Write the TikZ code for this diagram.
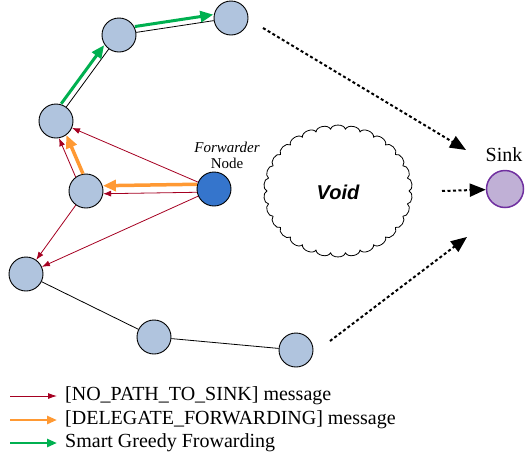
\documentclass[tikz,border=0pt]{standalone}
\usepackage{fontspec}
\setmainfont{Liberation Serif}
\newfontfamily\voidfont{Liberation Sans}
\usetikzlibrary{calc,arrows.meta}
\definecolor{nodefill}{RGB}{176,196,222}
\definecolor{fwdfill}{RGB}{53,117,204}
\definecolor{sinkfill}{RGB}{192,176,214}
\definecolor{sinkdraw}{RGB}{112,48,160}
\definecolor{myred}{RGB}{165,0,33}
\definecolor{myorange}{RGB}{255,153,51}
\definecolor{mygreen}{RGB}{0,176,80}
\tikzset{
  sensor/.style={circle,draw=black,line width=0.9pt,fill=nodefill,minimum size=34pt,inner sep=0pt},
  fwd/.style={sensor,fill=fwdfill},
  sinknode/.style={circle,draw=sinkdraw,line width=1.5pt,fill=sinkfill,minimum size=37pt,inner sep=0pt},
  link/.style={draw=black,line width=0.8pt},
  cloudline/.style={draw=black,line width=0.8pt,line join=round},
  redarrow/.style={draw=myred,line width=0.8pt,-{Latex[length=8pt,width=6pt]}},
  orangearrow/.style={draw=myorange,line width=3.5pt,-{Triangle[length=13pt,width=11pt]}},
  greenarrow/.style={draw=mygreen,line width=3pt,-{Triangle[length=13pt,width=11pt]}},
  dotarrow/.style={draw=black,line width=2pt,dash pattern=on 3pt off 2.5pt,-{Triangle[length=16pt,width=13pt]}},
  legred/.style={draw=myred,line width=0.8pt,-{Latex[length=9pt,width=6pt]}},
  legorange/.style={draw=myorange,line width=2.5pt,-{Triangle[length=10pt,width=8pt]}},
  leggreen/.style={draw=mygreen,line width=2.5pt,-{Triangle[length=10pt,width=8pt]}},
  legtext/.style={anchor=west,font=\fontsize{20}{22}\selectfont,inner sep=0pt},
}
\begin{document}
\begin{tikzpicture}[x=1pt,y=-1pt]
\useasboundingbox (0,0) rectangle (525,456);
% void cloud
\draw[cloudline] (338+71,191) \foreach \i in {1,...,30} { to[bend left=80] ({338+71*cos(12*\i)},{191+62*sin(12*\i)}) };
\node[font=\voidfont\bfseries\itshape\fontsize{20}{22}\selectfont] (voidlbl) at (338,192) {Void};
% nodes
\node[sensor] (A1) at (119,35) {};
\node[sensor] (A2) at (231,18) {};
\node[sensor] (A3) at (56,121) {};
\node[sensor] (A4) at (86,191) {};
\node[fwd] (F) at (214,189) {};
\node[sensor] (A5) at (26,274) {};
\node[sensor] (A6) at (154,337) {};
\node[sensor] (A7) at (296,350) {};
\node[sinknode] (sink) at (505,189) {};
\node[font=\fontsize{20}{22}\selectfont] (sinklbl) at (504,155) {Sink};
\node[align=center,font=\fontsize{15}{16}\selectfont,inner sep=0pt] (fwdlbl) at (227,155) {\textit{Forwarder}\\Node};
% black links
\draw[link] (A1) -- (A2);
\draw[link] (A3) -- (A1);
\draw[link] (A5) -- (A6);
\draw[link] (A6) -- (A7);
% green greedy forwarding
\draw[greenarrow] ($(A3)!17pt!(A1)!6pt!90:(A1)$) -- ($(A1)!17pt!(A3)!6pt!-90:(A3)$);
\draw[greenarrow] ($(A1)!17pt!(A2)!6pt!90:(A2)$) -- ($(A2)!17pt!(A1)!6pt!-90:(A1)$);
% orange delegate forwarding
\draw[orangearrow] ($(F)!17pt!(A4)!5pt!-90:(A4)$) -- ($(A4)!17pt!(F)!5pt!90:(F)$);
\draw[orangearrow] ($(A4)!17pt!(A3)!4pt!-90:(A3)$) -- ($(A3)!17pt!(A4)!4pt!90:(A4)$);
% red no path to sink
\draw[redarrow] ($(F)!17pt!(A4)!3pt!90:(A4)$) -- ($(A4)!17pt!(F)!3pt!-90:(F)$);
\draw[redarrow] ($(A4)!17pt!(A3)!4pt!90:(A3)$) -- ($(A3)!17pt!(A4)!4pt!-90:(A4)$);
\draw[redarrow] (F) -- (A3);
\draw[redarrow] (F) -- (A5);
\draw[redarrow] (A4) -- (A5);
% dotted arrows to sink
\coordinate (d1s) at (263,28);
\coordinate (d1e) at (466,150);
\coordinate (d2s) at (442,191);
\coordinate (d3s) at (330,341);
\coordinate (d3e) at (467,237);
\draw[dotarrow] (d1s) -- (d1e);
\draw[dotarrow] (d2s) -- (sink);
\draw[dotarrow] (d3s) -- (d3e);
% legend
\coordinate (l1a) at (10,396); \coordinate (l1b) at (57,396);
\coordinate (l2a) at (10,420); \coordinate (l2b) at (57,420);
\coordinate (l3a) at (10,443); \coordinate (l3b) at (57,443);
\draw[legred] (l1a) -- (l1b);
\draw[legorange] (l2a) -- (l2b);
\draw[leggreen] (l3a) -- (l3b);
\node[legtext] (t1) at (65,396) {[NO\_PATH\_TO\_SINK] message};
\node[legtext] (t2) at (65,420) {[DELEGATE\_FORWARDING] message};
\node[legtext] (t3) at (65,443) {Smart Greedy Frowarding};
\end{tikzpicture}
\end{document}
